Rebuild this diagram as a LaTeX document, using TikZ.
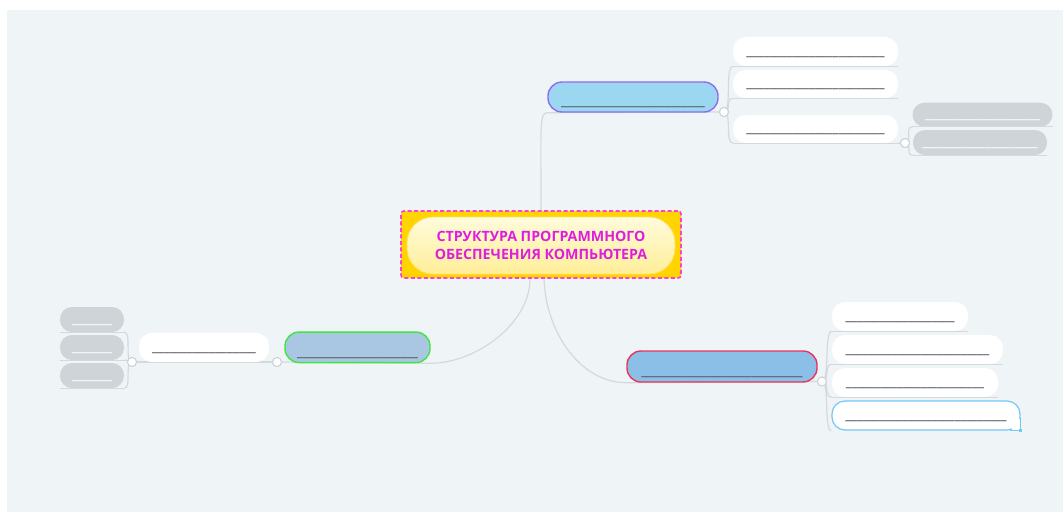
\documentclass[tikz,border=0pt]{standalone}
\usepackage{fontspec}
\setmainfont{Open Sans}
\usetikzlibrary{calc}
\pgfdeclarelayer{back}
\pgfdeclarelayer{bg}
\pgfsetlayers{back,bg,main}
\definecolor{bgc}{HTML}{EFF4F7}
\definecolor{connc}{HTML}{D4D9DE}
\definecolor{hubc}{HTML}{CDD3D8}
\definecolor{graypill}{HTML}{CFD4D8}
\definecolor{uscc}{HTML}{50555B}
\definecolor{titlec}{HTML}{DD1FDD}
\definecolor{gold}{HTML}{FFD400}
\definecolor{dashc}{HTML}{FF3DD2}
\definecolor{pilltop}{HTML}{FFFBDC}
\definecolor{pillbot}{HTML}{FFEE98}
\definecolor{pillrim}{HTML}{FFE16A}
\definecolor{b1fill}{HTML}{9BD7F0}
\definecolor{b1draw}{HTML}{8E6CF2}
\definecolor{b2fill}{HTML}{A9C6E3}
\definecolor{b2draw}{HTML}{3EE63E}
\definecolor{b3fill}{HTML}{8BBFE8}
\definecolor{b3draw}{HTML}{E6365C}
\definecolor{w4c}{HTML}{72C8F6}
\newcommand\usc[1]{\foreach\i in {1,...,#1}{\_}}
\begin{document}
\begin{tikzpicture}[x=1pt,y=-1pt,
  box/.style={rectangle, inner sep=0pt, font=\bfseries\fontsize{14}{16}\selectfont, text=uscc},
  branch/.style={box, rounded corners=14pt, line width=1.4pt, text height=17.5pt, text depth=0pt},
  leaf/.style={box, fill=white, rounded corners=13pt, text height=7pt, text depth=0pt},
  grayleaf/.style={box, fill=graypill, rounded corners=12pt, text=white, text height=7pt, text depth=0pt},
  conn/.style={draw=connc, line width=1.2pt},
  hub/.style={circle, fill=white, draw=hubc, line width=1pt, minimum size=9pt, inner sep=0pt}]
\useasboundingbox (0,0) rectangle (1063,512);
\begin{pgfonlayer}{back}
\fill[white] (0,0) rectangle (1063,512);
\fill[bgc] (7,10) rectangle (1063,512);
\end{pgfonlayer}

% central node
\node[rectangle, fill=gold, draw=dashc, line width=1.6pt, dash pattern=on 4pt off 2.5pt,
      rounded corners=3pt, minimum width=280pt, minimum height=67pt] (root) at (541,244.5) {};
\node[rectangle, rounded corners=26pt, top color=pilltop, bottom color=pillbot, draw=pillrim,
      line width=0.8pt, minimum width=268pt, minimum height=57pt, align=center, text=titlec,
      font=\bfseries\fontsize{14.2}{18}\selectfont] (roottext) at (541,245.5)
      {СТРУКТУРА ПРОГРАММНОГО\\ОБЕСПЕЧЕНИЯ КОМПЬЮТЕРА};

% top branch
\node[branch, fill=b1fill, draw=b1draw, minimum width=170pt, minimum height=30pt] (b1) at (633,97) {\usc{25}};
\node[leaf, minimum width=165pt, minimum height=29pt] (c1) at (815.5,51.5) {\usc{24}};
\node[leaf, minimum width=165pt, minimum height=28.5pt] (c2) at (815.5,84) {\usc{24}};
\node[leaf, minimum width=165pt, minimum height=28pt] (c3) at (815.5,129) {\usc{24}};
\node[grayleaf, minimum width=140pt, minimum height=24pt] (g1) at (982.5,114.7) {\usc{20}};
\node[grayleaf, minimum width=134pt, minimum height=25pt] (g2) at (980,142.5) {\usc{20}};

% left branch
\node[branch, fill=b2fill, draw=b2draw, minimum width=145pt, minimum height=30.5pt] (b2) at (357.5,347.3) {\usc{21}};
\node[leaf, minimum width=130pt, minimum height=29pt] (lw) at (204,347.5) {\usc{18}};
\node[grayleaf, minimum width=64pt, minimum height=25pt] (lg1) at (92,319.5) {\usc{7}};
\node[grayleaf, minimum width=64pt, minimum height=25pt] (lg2) at (92,347.5) {\usc{7}};
\node[grayleaf, minimum width=64pt, minimum height=25pt] (lg3) at (92,375.5) {\usc{7}};

% right branch
\node[branch, fill=b3fill, draw=b3draw, minimum width=190pt, minimum height=31pt] (b3) at (722,366.5) {\usc{28}};
\node[leaf, minimum width=136pt, minimum height=29pt] (w1) at (900,316.5) {\usc{19}};
\node[leaf, minimum width=171pt, minimum height=29pt] (w2) at (917.5,349.5) {\usc{25}};
\node[leaf, minimum width=166pt, minimum height=29pt] (w3) at (915,382.5) {\usc{24}};
\node[leaf, draw=w4c, line width=1.2pt, minimum width=188pt, minimum height=29pt] (w4) at (926,415.5) {\usc{28}};
\fill[white] ($(w4.south east)+(-9,-12)$) rectangle (w4.south east);
\draw[w4c, line width=1.2pt] ($(w4.south east)+(-11,0)$) -- (w4.south east) -- ($(w4.south east)+(0,-13)$);
\fill[w4c] ($(w4.south east)+(-1.8,-1.8)$) rectangle +(3.6,3.6);

% hubs
\node[hub] (hb1) at (724,112) {};
\node[hub] (hc3) at (905,143) {};
\node[hub] (hb2) at (277,362) {};
\node[hub] (hlw) at (132,362) {};
\node[hub] (hb3) at (822,381.5) {};

% connectors behind nodes
\begin{pgfonlayer}{bg}
\draw[conn] (root.north) .. controls ($(root.north)+(0,-85)$) and ($(b1.south west)+(-8,0)$) .. (b1.south west) -- (hb1.center);
\draw[conn] ($(root.south)+(-11,0)$) .. controls ($(root.south)+(-11,45)$) and ($(b2.south east)+(45,0)$) .. (b2.south east) -- (hb2.center);
\draw[conn] (hb2.center) -- (hlw.center);
\draw[conn] ($(root.south)+(3,0)$) .. controls ($(root.south)+(5,55)$) and ($(b3.south west)+(-45,0)$) .. (b3.south west) -- (hb3.center);
\foreach \c in {c1,c2,c3}{
  \draw[conn] (hb1.center) .. controls ($(hb1.center)+(8,0)$) and ($(\c.south west)+(-8,0)$) .. (\c.south west);
}
\draw[conn] (c3.south east) -- (hc3.center);
\foreach \c in {g1,g2}{
  \draw[conn] (hc3.center) .. controls ($(hc3.center)+(8,0)$) and ($(\c.south west)+(-8,0)$) .. (\c.south west);
}
\foreach \c in {w1,w2,w3,w4}{
  \draw[conn] (hb3.center) .. controls ($(hb3.center)+(8,0)$) and ($(\c.south west)+(-8,0)$) .. (\c.south west);
}
\foreach \c in {lg1,lg2,lg3}{
  \draw[conn] (hlw.center) .. controls ($(hlw.center)+(-8,0)$) and ($(\c.south east)+(8,0)$) .. (\c.south east);
}
\end{pgfonlayer}
% bottom lines of leaves
\foreach \c in {c1,c2,c3,g1,g2,w1,w2,w3,lw,lg1,lg2,lg3}{
  \draw[conn, line width=1pt] (\c.south west) -- (\c.south east);
}
\node[hub] at (hb1) {};
\node[hub] at (hc3) {};
\node[hub] at (hb2) {};
\node[hub] at (hlw) {};
\node[hub] at (hb3) {};
\end{tikzpicture}
\end{document}
